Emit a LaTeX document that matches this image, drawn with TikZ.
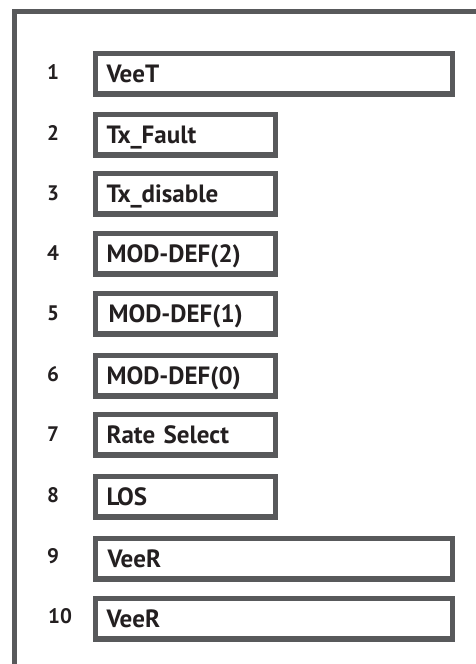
\documentclass[tikz,border=0pt]{standalone}
\usepackage{fontspec}
\setmainfont{PT Sans}
\definecolor{frame}{HTML}{58595B}
\definecolor{ink}{HTML}{231F20}
\begin{document}
\begin{tikzpicture}[x=1pt,y=-1pt,
  pinbox/.style={draw=frame, line width=5.5pt, rectangle, anchor=north west,
    minimum height=40.5pt, inner xsep=11pt, inner ysep=0pt,
    text height=17pt, text depth=0pt, align=left, text=ink,
    font=\fontsize{25}{28}\selectfont\bfseries},
  shortbox/.style={pinbox, text width=158pt},
  longbox/.style={pinbox, text width=335pt},
  pinnum/.style={text=ink, font=\fontsize{21}{24}\selectfont\bfseries, inner sep=0pt}]
\useasboundingbox (0,0) rectangle (476,664);
\clip (0,0) rectangle (476,664);
\draw[frame, line width=5pt] (14,700) -- (14,11.5) -- (500,11.5);
\node[longbox]  (b1)  at (92.75,50.75)  {VeeT};
\node[shortbox] (b2)  at (92.75,111.75) {Tx\_Fault};
\node[shortbox] (b3)  at (92.75,170.75) {Tx\_disable};
\node[shortbox] (b4)  at (92.75,230.75) {MOD-DEF(2)};
\node[shortbox] (b5)  at (92.75,290.75) {\hspace*{2pt}MOD-DEF(1)};
\node[shortbox] (b6)  at (92.75,352.75) {MOD-DEF(0)};
\node[shortbox] (b7)  at (92.75,411.75) {Rate Select};
\node[shortbox] (b8)  at (92.75,473.75) {LOS};
\node[longbox]  (b9)  at (92.75,535.75) {\hspace*{1pt}VeeR};
\node[longbox]  (b10) at (92.75,595.75) {VeeR};
\node[pinnum] at (53,72)  (n1) {1};
\node[pinnum] at (53,133) (n2) {2};
\node[pinnum] at (53,193) (n3) {3};
\node[pinnum] at (53,253) (n4) {4};
\node[pinnum] at (53,313) (n5) {5};
\node[pinnum] at (53,374) (n6) {6};
\node[pinnum] at (53,434) (n7) {7};
\node[pinnum] at (53,495) (n8) {8};
\node[pinnum] at (53,556) (n9) {9};
\node[pinnum] at (60,616) (n10) {10};
\end{tikzpicture}
\end{document}
